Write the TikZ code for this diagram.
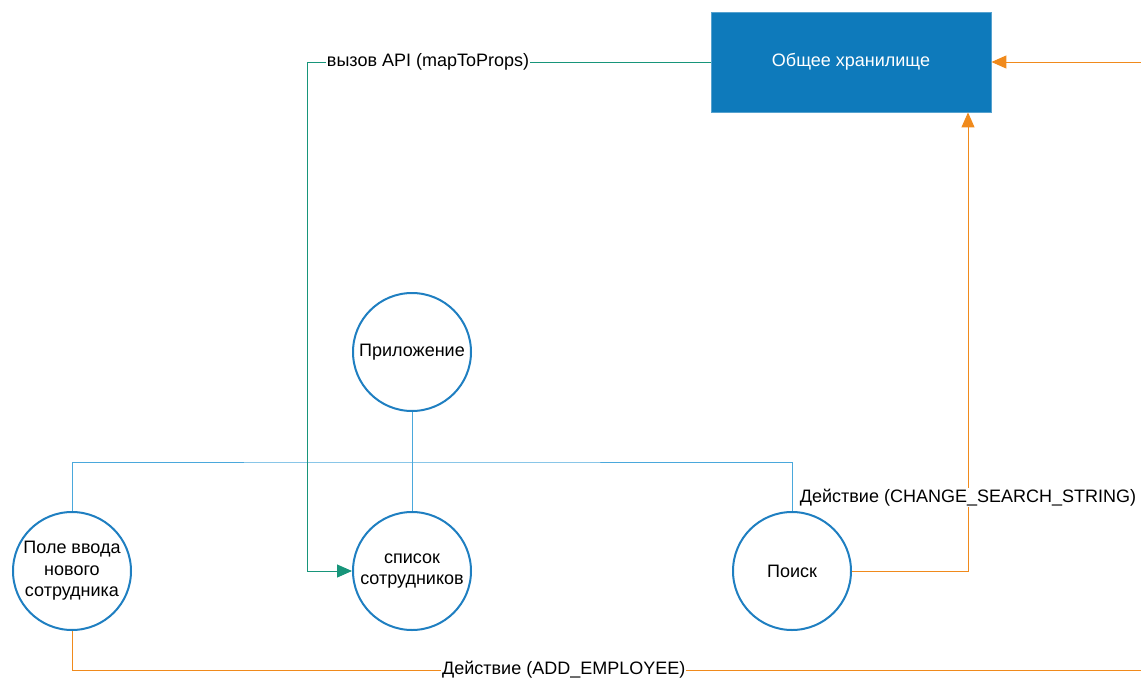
\documentclass[tikz,border=0pt]{standalone}
\usepackage{fontspec}
\setmainfont{Liberation Sans}
\usetikzlibrary{arrows.meta}
\definecolor{storeblue}{HTML}{0E7ABB}
\definecolor{ringblue}{HTML}{1F7FC1}
\definecolor{linkblue}{HTML}{4AA8DC}
\definecolor{flowgreen}{HTML}{17957A}
\definecolor{actorange}{HTML}{F08A1C}
\begin{document}
\begin{tikzpicture}[x=1pt,y=-1pt,
  every node/.style={font=\fontsize{18}{21.5}\selectfont},
  comp/.style={circle,draw=ringblue,line width=2pt,minimum size=118pt,inner sep=0pt,align=center},
  store/.style={rectangle,fill=storeblue,draw=storeblue!70!white,line width=0.8pt,minimum width=280pt,minimum height=100pt,text=white},
  tree/.style={draw=linkblue,line width=1pt},
  action/.style={draw=actorange,line width=1pt},
  mapping/.style={draw=flowgreen,line width=1pt},
  tip/.style={-{Triangle[length=15pt,width=13pt]}},
  tag/.style={fill=white,inner sep=1pt,text=black}
]
\useasboundingbox (0,0) rectangle (1141,680);

% store and components
\node[store] (store) at (851,62) {Общее хранилище};
\node[comp] (app) at (412,352) {Приложение};
\node[comp] (list) at (412,571) {список\\сотрудников};
\node[comp] (search) at (792,571) {Поиск};
\node[comp] (input) at (72,571) {Поле ввода\\нового\\сотрудника};

% component tree
\coordinate (bus) at (412,462);
\draw[tree] (app.south) -- (bus);
\draw[tree] (input.north) |- (bus) -| (search.north);
\draw[tree] (bus) -- (list.north);

% mapping from store to the list
\coordinate (turnA) at (307,62);
\draw[mapping,tip] (store.west) -- node[tag,pos=0.7]{вызов API (mapToProps)} (turnA) |- (list.west);

% incoming actions
\coordinate (rightin) at (1141,62);
\draw[action,tip] (rightin) -- (store.east);
\coordinate (turnB) at (968,571);
\draw[action,tip] (search.east) -- (turnB) -- node[tag,pos=0.16]{Действие (CHANGE\_SEARCH\_STRING)} (store.south -| turnB);
\coordinate (turnC) at (72,670);
\coordinate (rightout) at (1141,670);
\draw[action] (input.south) -- (turnC) -- node[tag,pos=0.46]{Действие (ADD\_EMPLOYEE)} (rightout);
\end{tikzpicture}
\end{document}
